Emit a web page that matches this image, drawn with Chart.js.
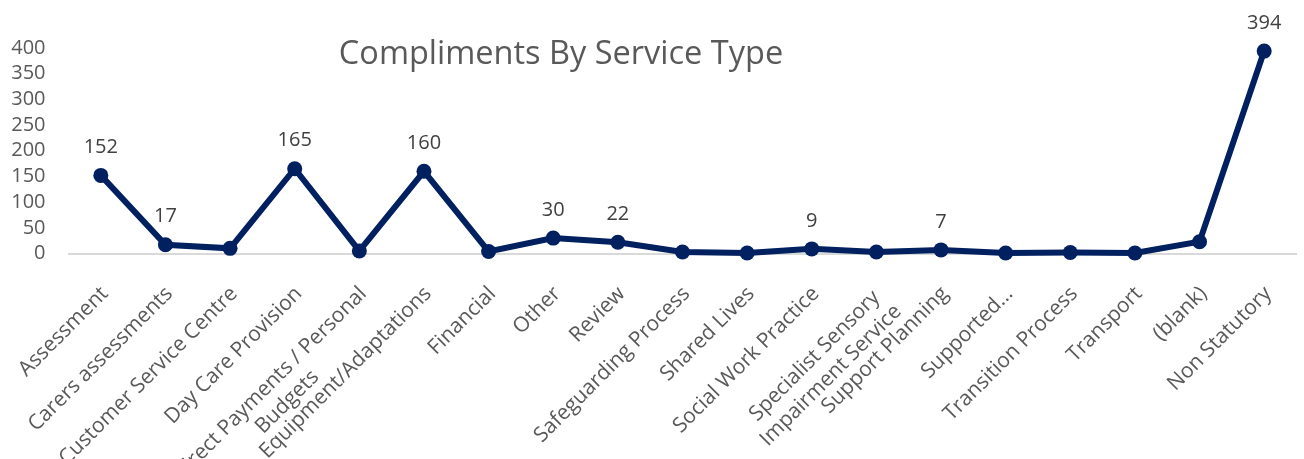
<!DOCTYPE html>
<html>
<head>
<meta charset="utf-8">
<script src="https://cdn.jsdelivr.net/npm/chart.js@4"></script>
<style>
  html, body { margin: 0; padding: 0; background: #fff; }
  #wrap { position: relative; width: 1304px; height: 459px; overflow: hidden; }
  #title { position: absolute; left: 0; width: 1122px; top: 31px; text-align: center;
           font-family: "Open Sans", sans-serif; font-size: 32.5px; color: #595959; line-height: 42px; }
</style>
</head>
<body>
<div id="wrap">
  <canvas id="c" width="1304" height="459"></canvas>
  <div id="title">Compliments By Service Type</div>
</div>
<script>
const categories = [
  "Assessment", "Carers assessments", "Customer Service Centre", "Day Care Provision",
  ["Direct Payments / Personal", "Budgets"], "Equipment/Adaptations", "Financial", "Other",
  "Review", "Safeguarding Process", "Shared Lives", "Social Work Practice",
  ["Specialist Sensory", "Impairment Service"], "Support Planning", "Supported…",
  "Transition Process", "Transport", "(blank)", "Non Statutory"
];
const compliments = [152, 17, 10, 165, 5, 160, 4, 30, 22, 3, 1, 9, 3, 7, 1, 2, 1, 23, 394];
const labelledPoints = [0, 1, 3, 5, 7, 8, 11, 13, 18];
const yTicks = [0, 50, 100, 150, 200, 250, 300, 350, 400];

const navy = '#002060';
const xFont = '"Open Sans", sans-serif';
const xSize = 21;

// centre the lines of a wrapped category label (Chart.js right-aligns rotated lines)
const measureCtx = document.createElement('canvas').getContext('2d');
function centreLines(lbl) {
  if (!Array.isArray(lbl)) return lbl;
  measureCtx.font = xSize + 'px ' + xFont;
  const widths = lbl.map(s => measureCtx.measureText(s).width);
  const maxW = Math.max(...widths);
  const sp = measureCtx.measureText(' ').width;
  return lbl.map((s, i) => s + ' '.repeat(Math.round((maxW - widths[i]) / 2 / sp)));
}

const pointLabels = {
  id: 'pointLabels',
  afterDatasetsDraw(chart) {
    const ctx = chart.ctx;
    const meta = chart.getDatasetMeta(0);
    ctx.save();
    ctx.font = '20px "Open Sans", sans-serif';
    ctx.fillStyle = '#404040';
    ctx.textAlign = 'center';
    ctx.textBaseline = 'middle';
    labelledPoints.forEach(i => {
      const p = meta.data[i];
      ctx.fillText(String(compliments[i]), p.x, p.y - 28);
    });
    ctx.restore();
  }
};

new Chart(document.getElementById('c'), {
  type: 'line',
  data: {
    labels: categories,
    datasets: [{
      data: compliments,
      borderColor: navy,
      backgroundColor: navy,
      borderWidth: 6,
      pointRadius: 7.5,
      pointBackgroundColor: navy,
      pointBorderColor: navy,
      pointBorderWidth: 0,
      tension: 0,
      clip: false
    }]
  },
  options: {
    responsive: false,
    animation: false,
    layout: { padding: { top: 48, right: 2, left: 0, bottom: 0 } },
    plugins: { legend: { display: false }, tooltip: { enabled: false }, title: { display: false } },
    scales: {
      x: {
        offset: true,
        grid: { display: false, drawTicks: false },
        border: { display: true, color: '#d9d9d9', width: 2 },
        ticks: {
          autoSkip: false,
          minRotation: 45,
          maxRotation: 45,
          padding: 28,
          labelOffset: 4,
          color: '#595959',
          font: { family: xFont, size: xSize },
          callback(value, index) { return centreLines(categories[index]); }
        },
        afterFit(scale) {
          scale.height = 459 - 253.5;
          scale.paddingLeft = 0;
          scale.paddingRight = 0;
        }
      },
      y: {
        min: 0,
        max: 400,
        afterBuildTicks(scale) { scale.ticks = yTicks.map(v => ({ value: v })); },
        grid: { display: false, drawTicks: false },
        border: { display: false },
        ticks: {
          autoSkip: false,
          padding: 23,
          color: '#595959',
          font: { family: '"Open Sans", sans-serif', size: 20 }
        },
        afterFit(scale) { scale.width = 68.5; }
      }
    }
  },
  plugins: [pointLabels]
});
</script>
</body>
</html>
